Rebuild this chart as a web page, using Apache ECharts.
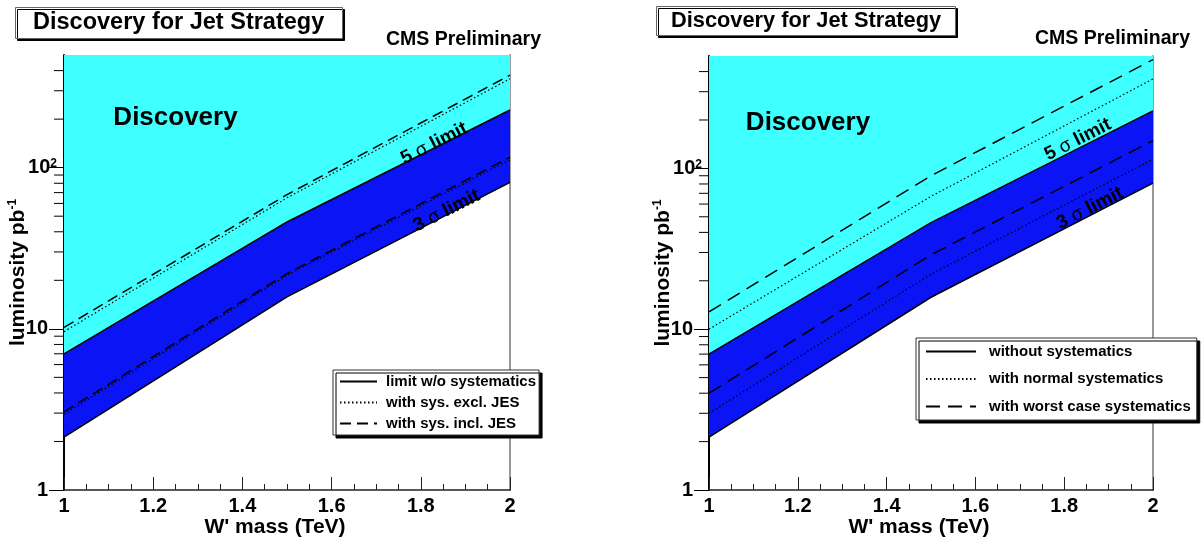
<!DOCTYPE html>
<html><head><meta charset="utf-8">
<script src="https://cdn.jsdelivr.net/npm/echarts@6/dist/echarts.min.js"></script>
<style>html,body{margin:0;padding:0;background:#fff;}#c{width:1203px;height:538px;}</style>
</head><body><div id="c"></div>
<script>
// ---------- data ----------
const mass = [1.0, 1.5, 2.0];
const sig5_noSys = [7.0, 46, 228];
const sig3_noSys = [2.13, 15.8, 81];
// left panel
const L_sig5_exclJES = [9.6, 65, 356];
const L_sig5_inclJES = [10.2, 68, 375];
const L_sig3_exclJES = [2.95, 21.5, 112];
const L_sig3_inclJES = [3.05, 22, 116];
// right panel
const R_sig5_normal = [10.0, 67, 360];
const R_sig5_worst = [12.8, 90, 475];
const R_sig3_normal = [3.0, 22, 114];
const R_sig3_worst = [4.0, 29, 149];
// axes
const xTickLabels = ['1', '1.2', '1.4', '1.6', '1.8', '2'];
const yMajorTicks = [1, 10, 100];
const yMinorTicks = [2,3,4,5,6,7,8,9,20,30,40,50,60,70,80,90,200,300,400];
const yMin = 1, yMax = 500;
// annotations [x, y]
const L_discoveryPos = [1.25, 205];
const L_sig5LabelPos = [1.83, 141];
const L_sig3LabelPos = [1.858, 54];
const R_discoveryPos = [1.223, 192];
const R_sig5LabelPos = [1.831, 151];
const R_sig3LabelPos = [1.858, 56.5];

const FONT = 'Liberation Sans, Arial, Helvetica, sans-serif';
const CYAN = '#40ffff', BLUE = '#0a14f5';
const TICKFS = 20, NAMEFS = 21;

function pts(ys){ return mass.map((m,i)=>[m, ys[i]]); }

function makeAxes(gi){
  const x = {
    type:'value', gridIndex: gi, min: 1, max: 2, interval: 0.2,
    axisLine:{show:true, onZero:false, lineStyle:{color:'#222', width:1.5}},
    axisTick:{show:true, inside:true, length:13, lineStyle:{color:'#222', width:1}},
    minorTick:{show:true, splitNumber:4, length:6, lineStyle:{color:'#222', width:1}},
    splitLine:{show:false}, minorSplitLine:{show:false},
    axisLabel:{margin:6, color:'#000', fontFamily:FONT, fontWeight:'bold', fontSize:TICKFS,
      formatter: v => { const i = Math.round((v-1)/0.2); return Math.abs(v-1-0.2*i)<1e-6 ? xTickLabels[i] : ''; }},
    name:"W' mass (TeV)", nameLocation:'middle', nameGap:27, nameMoveOverlap:false,
    nameTextStyle:{color:'#000', fontFamily:FONT, fontWeight:'bold', fontSize:NAMEFS, padding:[0,24,0,0]}
  };
  const y = {
    type:'log', logBase:10, gridIndex: gi, min: yMin, max: yMax,
    axisLine:{show:true, onZero:false, lineStyle:{color:'#000', width:2}},
    axisTick:{show:true, inside:false, length:15, lineStyle:{color:'#000', width:1},
      customValues: yMajorTicks},
    minorTick:{show:false}, splitLine:{show:false},
    axisLabel:{margin:7, color:'#000', fontFamily:FONT, fontWeight:'bold', fontSize:TICKFS,
      customValues: yMajorTicks,
      formatter: v => { if (Math.abs(v-1)<1e-6) return '{b|1}{sp|}'; if (Math.abs(v-10)<1e-6) return '{b|10}{sp|}'; if (Math.abs(v-100)<1e-4) return '{b|10}{s|2}'; return ''; },
      rich:{ b:{fontFamily:FONT, fontWeight:'bold', fontSize:TICKFS, lineHeight:20, color:'#000'},
             sp:{width:9, lineHeight:20},
             s:{fontFamily:FONT, fontWeight:'bold', fontSize:12, lineHeight:12, color:'#000', verticalAlign:'top'} }},
    name:'luminosity pb{s|-1}', nameLocation:'middle', nameGap:35, nameRotate:90, nameMoveOverlap:false,
    nameTextStyle:{color:'#000', fontFamily:FONT, fontWeight:'bold', fontSize:NAMEFS, lineHeight:22,
      rich:{ s:{fontFamily:FONT, fontWeight:'bold', fontSize:12, lineHeight:12, color:'#000', verticalAlign:'top'} }}
  };
  const frame = {
    type:'value', gridIndex: gi, position:'right', min:0, max:1,
    axisLine:{show:true, lineStyle:{color:'#999', width:2}},
    axisTick:{show:false}, axisLabel:{show:false}, splitLine:{show:false}
  };
  return {x, y, frame};
}

const a0 = makeAxes(0), a1 = makeAxes(1);

function areaSeries(gi, ys, color, z){
  return { type:'line', xAxisIndex:gi, yAxisIndex:gi*2, data:pts(ys), symbol:'none', z:z,
    lineStyle:{width:0, opacity:0}, areaStyle:{color:color, opacity:1, origin:'end'},
    silent:true, emphasis:{disabled:true} };
}
function lineSeries(gi, name, ys, type, width){
  return { type:'line', name:name, xAxisIndex:gi, yAxisIndex:gi*2, data:pts(ys), symbol:'none', z:5,
    itemStyle:{color:'#000'}, lineStyle:{color:'#000', width:width||1.5, type:type},
    silent:true, emphasis:{disabled:true} };
}
function textSeries(gi, pos, text, size, rot){
  return { type:'scatter', xAxisIndex:gi, yAxisIndex:gi*2, data:[pos], symbolSize:0, z:8, silent:true,
    itemStyle:{opacity:1, color:'#000'},
    label:{show:true, position:'inside', formatter:text, rotate:rot||0, color:'#000', opacity:1,
      textBorderWidth:0, fontFamily:FONT, fontWeight:'bold', fontSize:size,
      rich:{g:{fontFamily:FONT, fontWeight:'normal', fontSize:size, color:'#000'}}} };
}
function minorTickSeries(gi){
  return { type:'custom', xAxisIndex:gi, yAxisIndex:gi*2, clip:false, silent:true, z:6,
    data: yMinorTicks.map(v=>[1, v]),
    renderItem:(params, api)=>{
      const p = api.coord([1, api.value(1)]);
      const x0 = params.coordSys.x;
      return {type:'line', shape:{x1:x0-10, y1:p[1], x2:x0, y2:p[1]}, style:{stroke:'#000', lineWidth:1}};
    } };
}

const cmsStyle = {color:'#000', fontFamily:FONT, fontWeight:'bold', fontSize:19.5};
const boxTitle = (left, top, fs, padH)=>({text:'Discovery for Jet Strategy', left:left, top:top, padding:[4,padH,4,padH],
  textStyle:{color:'#000', fontFamily:FONT, fontWeight:'bold', fontSize:fs}, backgroundColor:'#fff', borderColor:'#666', borderWidth:1,
  shadowColor:'#000', shadowOffsetX:2, shadowOffsetY:2, shadowBlur:0});

const legendCommon = {show:true, orient:'vertical', selectedMode:false, backgroundColor:'#fff', borderColor:'#333', borderWidth:1,
  shadowColor:'#000', shadowOffsetX:3, shadowOffsetY:3, shadowBlur:0, itemHeight:14,
  itemStyle:{opacity:0, borderWidth:0}};

const option = {
  animation:false,
  backgroundColor:'#fff',
  title:[
    boxTitle(15, 7, 23.5, 18),
    {text:'CMS Preliminary', left:381, top:25, textStyle:cmsStyle},
    boxTitle(656, 6, 21.8, 15),
    {text:'CMS Preliminary', left:1030, top:24, textStyle:cmsStyle}
  ],
  legend:[
    Object.assign({}, legendCommon, {left:333, top:370, padding:[3,3,3,6], itemWidth:37, itemGap:4,
      textStyle:{color:'#000', fontFamily:FONT, fontWeight:'bold', fontSize:15, lineHeight:17, padding:[0,0,0,4]},
      data:['limit w/o systematics','with sys. excl. JES','with sys. incl. JES']}),
    Object.assign({}, legendCommon, {left:916, top:338, padding:[5,6,5,9], itemWidth:50, itemGap:10.5,
      textStyle:{color:'#000', fontFamily:FONT, fontWeight:'bold', fontSize:15, lineHeight:17, padding:[0,0,0,8]},
      data:['without systematics','with normal systematics','with worst case systematics']})
  ],
  grid:[
    {left:64, top:55, width:446, height:435, outerBoundsMode:'none', containLabel:false},
    {left:709, top:56, width:444, height:434, outerBoundsMode:'none', containLabel:false}
  ],
  xAxis:[a0.x, a1.x],
  yAxis:[a0.y, a0.frame, a1.y, a1.frame],
  series:[
    // left panel
    areaSeries(0, sig3_noSys, BLUE, 1),
    areaSeries(0, sig5_noSys, CYAN, 2),
    lineSeries(0, 'limit w/o systematics', sig5_noSys, 'solid'),
    lineSeries(0, 'limit w/o systematics', sig3_noSys, 'solid'),
    lineSeries(0, 'with sys. excl. JES', L_sig5_exclJES, [1.5,2.5], 1.2),
    lineSeries(0, 'with sys. excl. JES', L_sig3_exclJES, [1.5,2.5], 1.2),
    lineSeries(0, 'with sys. incl. JES', L_sig5_inclJES, [11,6]),
    lineSeries(0, 'with sys. incl. JES', L_sig3_inclJES, [11,6]),
    textSeries(0, L_discoveryPos, 'Discovery', 26),
    textSeries(0, L_sig5LabelPos, '5 {g|σ} limit', 19, 27),
    textSeries(0, L_sig3LabelPos, '3 {g|σ} limit', 19, 27),
    minorTickSeries(0),
    // right panel
    areaSeries(1, sig3_noSys, BLUE, 1),
    areaSeries(1, sig5_noSys, CYAN, 2),
    lineSeries(1, 'without systematics', sig5_noSys, 'solid'),
    lineSeries(1, 'without systematics', sig3_noSys, 'solid'),
    lineSeries(1, 'with normal systematics', R_sig5_normal, [1.5,2.5], 1.2),
    lineSeries(1, 'with normal systematics', R_sig3_normal, [1.5,2.5], 1.2),
    lineSeries(1, 'with worst case systematics', R_sig5_worst, [14,8]),
    lineSeries(1, 'with worst case systematics', R_sig3_worst, [14,8]),
    textSeries(1, R_discoveryPos, 'Discovery', 26),
    textSeries(1, R_sig5LabelPos, '5 {g|σ} limit', 19, 27),
    textSeries(1, R_sig3LabelPos, '3 {g|σ} limit', 19, 27),
    minorTickSeries(1)
  ]
};
option.series.forEach(s=>{ if (s.xAxisIndex===1) s.yAxisIndex = 2; });
const chart = echarts.init(document.getElementById('c'), null, {renderer:'canvas'});
chart.setOption(option);
</script></body></html>
